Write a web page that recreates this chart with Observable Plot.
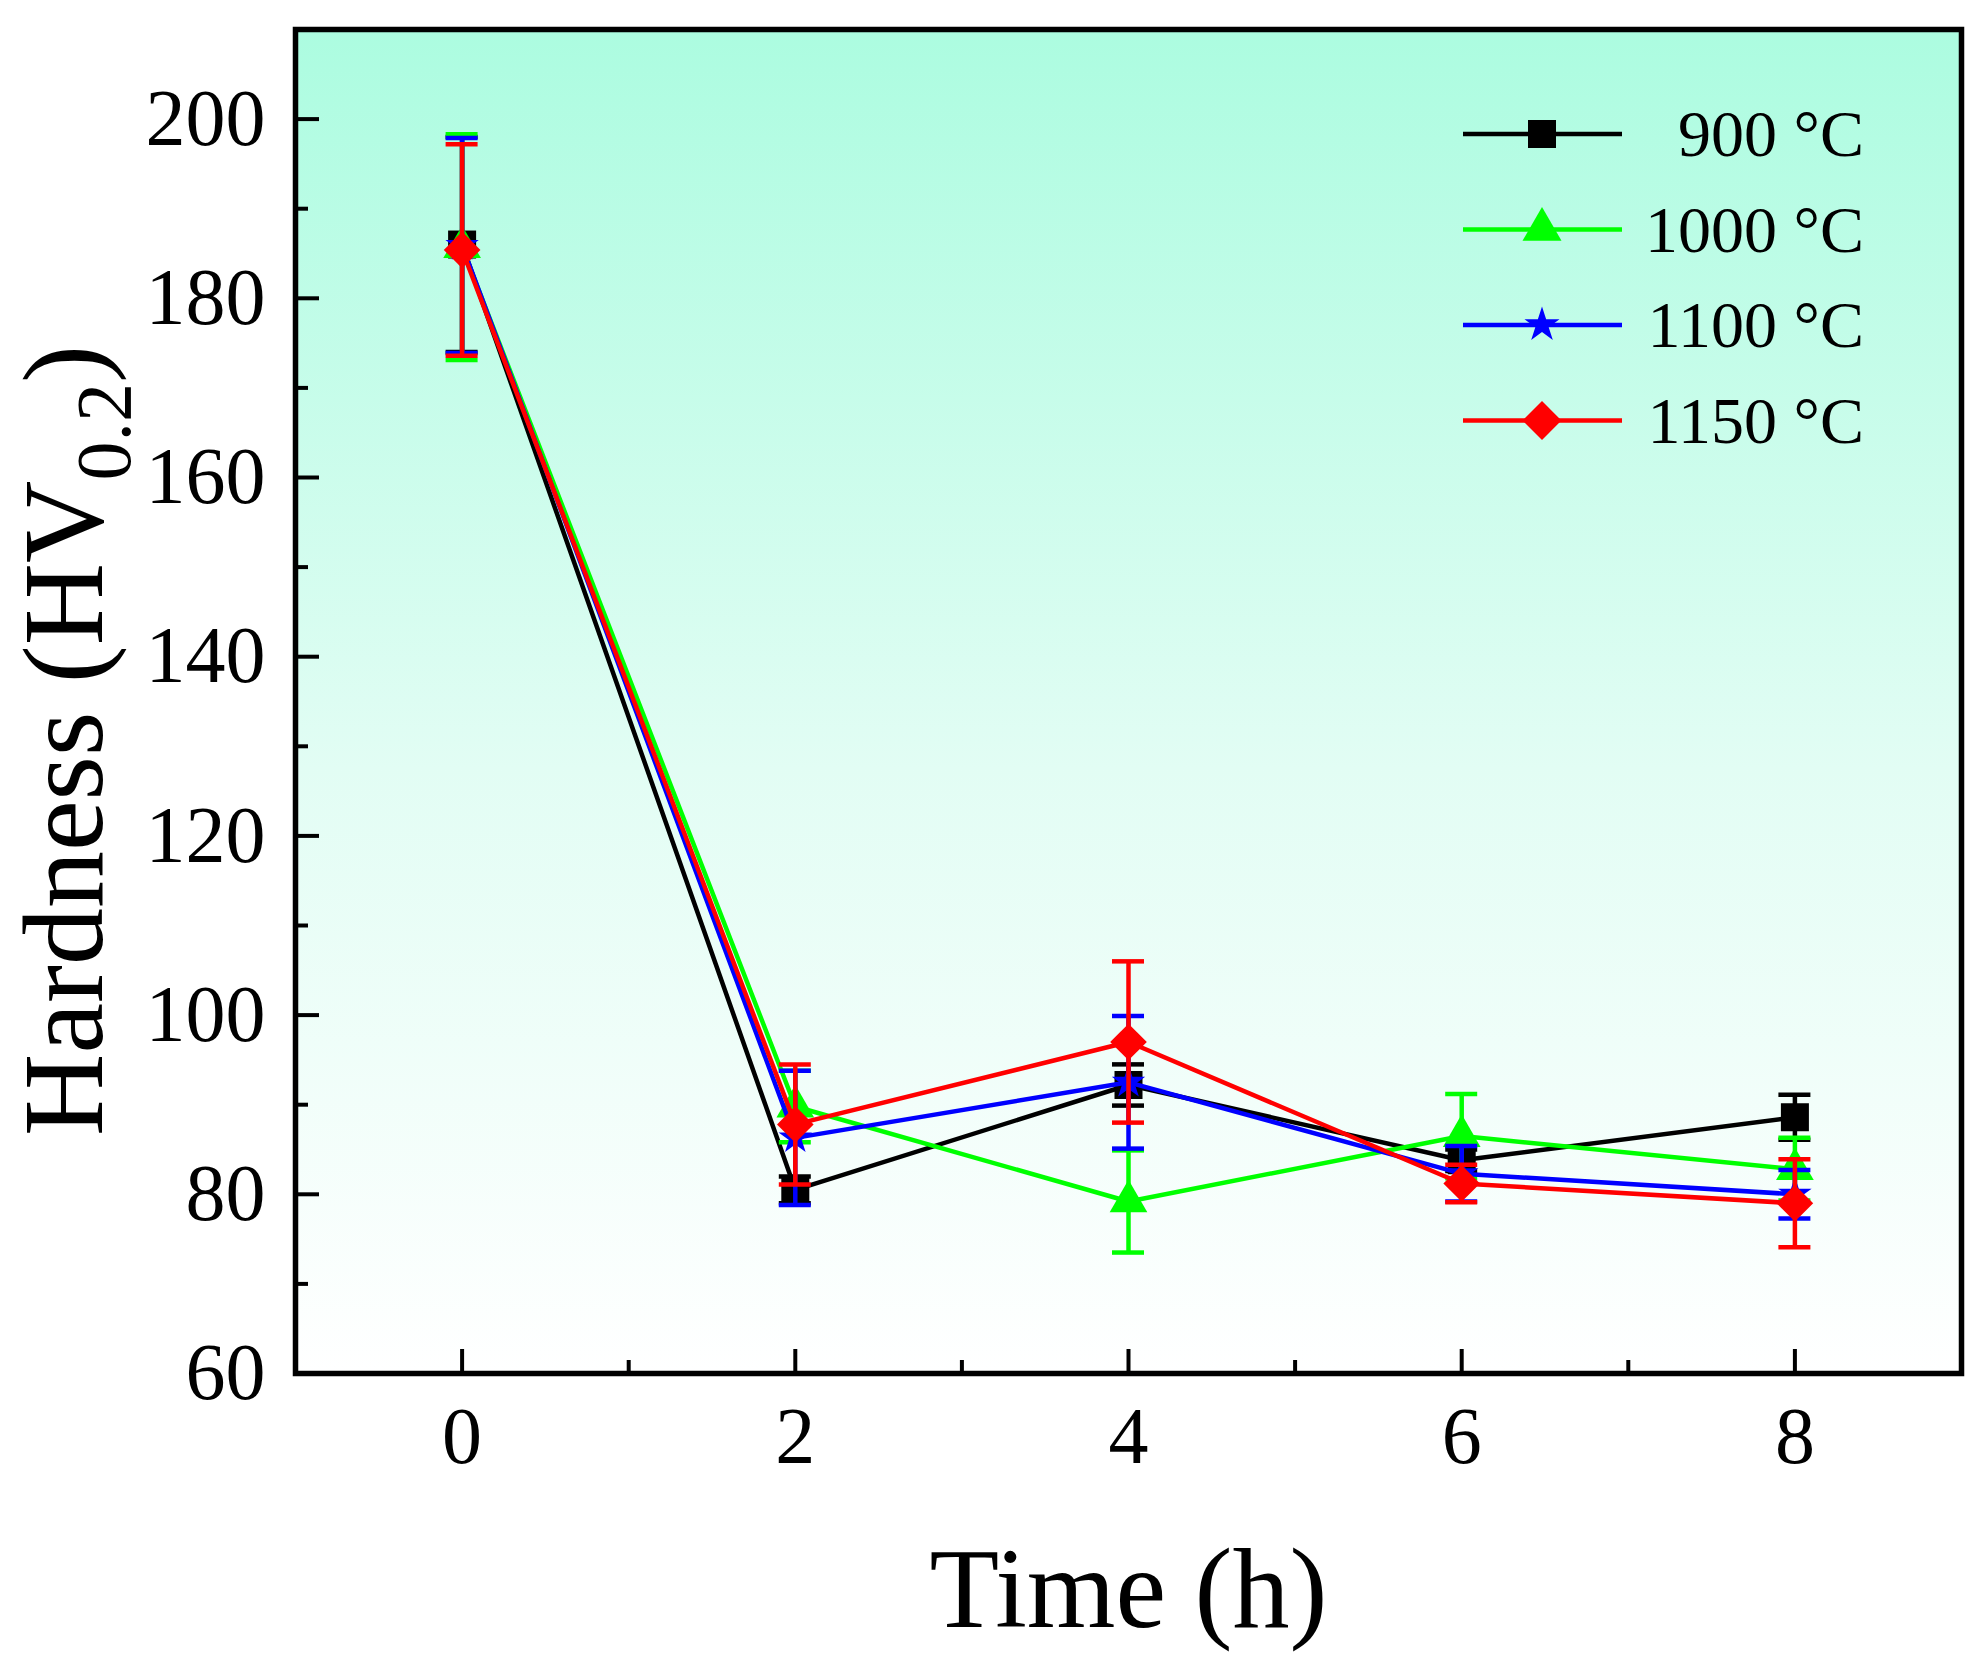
<!DOCTYPE html>
<html>
<head>
<meta charset="utf-8">
<script src="https://cdn.jsdelivr.net/npm/d3@7"></script>
<script src="https://cdn.jsdelivr.net/npm/@observablehq/plot@0.6"></script>
<style>
  html, body { margin: 0; padding: 0; background: #ffffff; }
  #chart { width: 1981px; height: 1677px; }
</style>
</head>
<body>
<div id="chart"></div>
<script>
// ---- data ----
const times = [0, 2, 4, 6, 8];
const seriesNames = ["900 \u00B0C", "1000 \u00B0C", "1100 \u00B0C", "1150 \u00B0C"];
const seriesColors = ["#000000", "#00ff00", "#0000ff", "#ff0000"];
const seriesSymbols = ["square", "triangle", "star", "diamond2"];

const hardness900  = [186.0, 80.5, 92.2, 83.8, 88.6];
const error900     = [12.0, 1.5, 2.3, 1.2, 2.5];
const hardness1000 = [185.7, 89.8, 79.2, 86.5, 82.8];
const error1000    = [12.6, 4.0, 5.7, 4.7, 3.5];
const hardness1100 = [185.9, 86.3, 92.5, 82.3, 80.0];
const error1100    = [12.0, 7.5, 7.4, 3.1, 2.7];
const hardness1150 = [185.4, 87.8, 97.0, 81.2, 79.0];
const error1150    = [11.8, 6.7, 9.0, 2.1, 4.9];

const xTicks = [0, 2, 4, 6, 8];
const xMinorTicks = [1, 3, 5, 7];
const yTicks = [60, 80, 100, 120, 140, 160, 180, 200];
const yMinorTicks = [70, 90, 110, 130, 150, 170, 190];

const xLabel = "Time (h)";
const yLabel = "Hardness (HV0.2)";

// ---- build rows ----
const values = [hardness900, hardness1000, hardness1100, hardness1150];
const errors = [error900, error1000, error1100, error1150];
const rowsBySeries = seriesNames.map((name, i) =>
  times.map((t, j) => ({series: name, t, h: values[i][j], e: errors[i][j]}))
);

const markerR = {square: 15.8, triangle: 14, star: 10.5, diamond2: 16.5};
const font = "'Liberation Serif', 'Times New Roman', 'DejaVu Serif', serif";
const lw = 4.5;

const seriesMarks = rowsBySeries.flatMap((rows, i) => {
  const color = seriesColors[i];
  const sym = seriesSymbols[i];
  return [
    Plot.line(rows, {x: "t", y: "h", stroke: color, strokeWidth: lw}),
    Plot.ruleX(rows, {x: "t", y1: d => d.h - d.e, y2: d => d.h + d.e, stroke: color, strokeWidth: lw}),
    Plot.ruleY(rows, {x1: "t", x2: "t", y: d => d.h + d.e, insetLeft: -16, insetRight: -16, stroke: color, strokeWidth: lw}),
    Plot.ruleY(rows, {x1: "t", x2: "t", y: d => d.h - d.e, insetLeft: -16, insetRight: -16, stroke: color, strokeWidth: lw}),
    Plot.dot(rows, {x: "t", y: "h", symbol: sym, r: markerR[sym], fill: color, stroke: "none"})
  ];
});

const plot = Plot.plot({
  width: 1981,
  height: 1677,
  marginLeft: 295,
  marginRight: 20,
  marginTop: 29,
  marginBottom: 304,
  x: {domain: [-1, 9]},
  y: {domain: [60, 210]},
  style: {fontFamily: font, background: "#ffffff", color: "#000000", overflow: "visible"},
  marks: [
    Plot.frame({fill: "url(#bg)", stroke: "none"}),
    ...seriesMarks,
    // inward ticks
    Plot.ruleX(xTicks, {x: d => d, y1: 60, y2: 60, insetTop: -24, stroke: "#000", strokeWidth: 4}),
    Plot.ruleX(xMinorTicks, {x: d => d, y1: 60, y2: 60, insetTop: -13, stroke: "#000", strokeWidth: 4}),
    Plot.ruleY(yTicks, {y: d => d, x1: -1, x2: -1, insetRight: -24, stroke: "#000", strokeWidth: 4}),
    Plot.ruleY(yMinorTicks, {y: d => d, x1: -1, x2: -1, insetRight: -13, stroke: "#000", strokeWidth: 4}),
    Plot.frame({stroke: "#000", strokeWidth: 5.5}),
    Plot.axisX(xTicks, {tickSize: 0, tickPadding: 33, fontSize: 80, label: null, tickFormat: d => String(d)}),
    Plot.axisY(yTicks, {tickSize: 0, tickPadding: 30, fontSize: 80, label: null, tickFormat: d => String(d)}),
    Plot.text([xLabel], {frameAnchor: "bottom", lineAnchor: "middle", textAnchor: "middle", dy: 217, fontSize: 114, fill: "#000"}),
    Plot.text([yLabel], {frameAnchor: "left", lineAnchor: "middle", textAnchor: "middle", rotate: -90, dx: -230, dy: 39, fontSize: 114, fill: "#000"})
  ]
});

document.getElementById("chart").appendChild(plot);

// ---- post-processing: gradient background, subscript, legend ----
const svg = d3.select(plot);
svg.insert("defs", ":first-child").html(
  '<linearGradient id="bg" x1="0" y1="0" x2="0" y2="1">' +
  '<stop offset="0" stop-color="#acfce0"/>' +
  '<stop offset="0.55" stop-color="#e2fdf4"/>' +
  '<stop offset="1" stop-color="#ffffff"/>' +
  '</linearGradient>'
);

svg.selectAll("text").filter(function () { return this.textContent === yLabel; }).each(function () {
  const t = d3.select(this);
  t.text(null);
  t.append("tspan").text("Hardness (HV");
  t.append("tspan").attr("font-size", 78).attr("dy", 28).text("0.2");
  t.append("tspan").attr("dy", -28).text(")");
});

const symbolTypes = {square: d3.symbolSquare, triangle: d3.symbolTriangle, star: d3.symbolStar, diamond2: d3.symbolDiamond2};
const legendR = {square: 15.8, triangle: 14.5, star: 11, diamond2: 17.5};
const legend = svg.append("g").attr("font-family", font).attr("font-size", 66);
seriesNames.forEach((name, i) => {
  const cy = 134 + i * 95.5;
  const sym = seriesSymbols[i];
  legend.append("line")
    .attr("x1", 1463).attr("x2", 1622).attr("y1", cy).attr("y2", cy)
    .attr("stroke", seriesColors[i]).attr("stroke-width", 4.5);
  legend.append("path")
    .attr("d", d3.symbol(symbolTypes[sym], Math.PI * legendR[sym] * legendR[sym])())
    .attr("transform", `translate(1542,${cy})`)
    .attr("fill", seriesColors[i]);
  legend.append("text")
    .attr("x", 1864).attr("y", cy + 22)
    .attr("text-anchor", "end").attr("fill", "#000")
    .text(name);
});
</script>
</body>
</html>
